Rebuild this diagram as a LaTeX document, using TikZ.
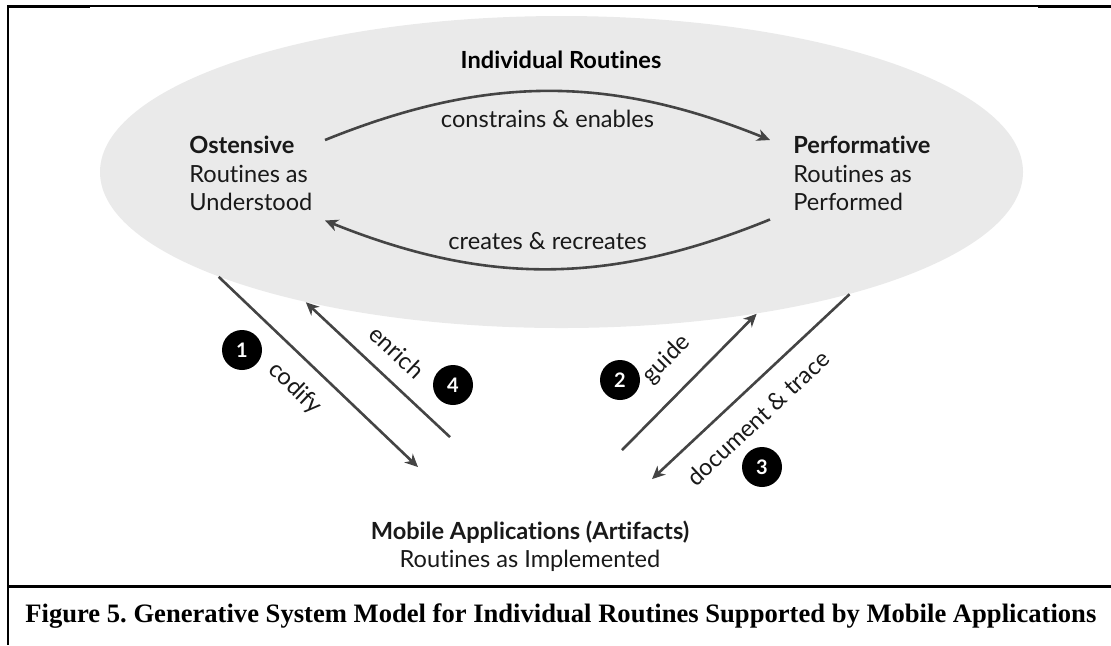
\documentclass[tikz,border=0pt]{standalone}
\usepackage{fontspec}
\setmainfont{Lato}[Ligatures=NoCommon]
\newfontfamily\capfont{Liberation Serif}
\usetikzlibrary{positioning, shapes.geometric, arrows.meta, calc}
\definecolor{ovalgray}{HTML}{EAEAEA}
\definecolor{arrowgray}{HTML}{444444}
\frenchspacing

\begin{document}
\begin{tikzpicture}[
        x=0.5pt, y=-0.5pt,
        lbl/.style={font=\fontsize{11.8}{14.25}\selectfont, text=black!90, inner sep=0},
        head/.style={lbl, font=\fontsize{11.8}{14.25}\selectfont\bfseries, text=black},
        badge/.style={circle, fill=black, text=white, minimum size=20pt, inner sep=0, font=\fontsize{10}{10}\selectfont\bfseries},
        arrowline/.style={-{Stealth[length=6.5pt, width=6pt, inset=2pt]}, line width=1.3pt, draw=arrowgray},
    ]
        \useasboundingbox (0,0) rectangle (1111,645);

        % Frame
        \draw[line width=0.7pt] (8,6) -- (1111,6);
        \draw[line width=1.5pt] (8,6.5) -- (90,6.5);
        \draw[line width=1.5pt] (1038,6.5) -- (1111,6.5);
        \draw[line width=1pt] (8,5) -- (8,645);
        \draw[line width=1.5pt] (8,586) -- (1111,586);

        % Individual routines
        \node[ellipse, fill=ovalgray, minimum width=461.5pt, minimum height=156pt, inner sep=0] (indiv) at (561.5,172) {};
        \node[head] (title) at (561,60) {Individual Routines};
        \node[lbl, align=left, anchor=north west] (ost) at (189,136) {\textbf{Ostensive}\\Routines as\\Understood};
        \node[lbl, align=left, anchor=north west] (perf) at (793,136) {\textbf{Performative}\\Routines as\\Performed};

        % Artifacts
        \node[lbl, align=center] (mobile) at (530,546) {\textbf{Mobile Applications (Artifacts)}\\Routines as Implemented};

        % Numbers
        \node[badge] (n1) at (242,350) {1};
        \node[badge] (n2) at (620,380) {2};
        \node[badge] (n3) at (762,467) {3};
        \node[badge] (n4) at (453,385) {4};

        \draw[arrowline] ([shift={(136,4)}]ost.north west) to[bend left=22]
            node[lbl, midway, below=9pt] (conlbl) {constrains \& enables} ([shift={(-23,4)}]perf.north west);
        \draw[arrowline] ([shift={(-23,8)}]perf.south west) to[bend left=22]
            node[lbl, midway, above=9pt] (crelbl) {creates \& recreates} ([shift={(136,9)}]ost.south west);

        \draw[arrowline] (indiv.197.9) -- node[lbl, sloped, below=8pt, pos=0.48] (codlbl) {codify} ([shift={(-112,-53)}]mobile.north);
        \draw[arrowline] ([shift={(-80,-83)}]mobile.north) -- node[lbl, sloped, above=8pt, pos=0.49] (enrlbl) {enrich} (indiv.207.2);
        \draw[arrowline] ([shift={(92,-70)}]mobile.north) -- node[lbl, sloped, above=10pt, pos=0.5] (guilbl) {guide} (indiv.324.2);
        \draw[arrowline] (indiv.337.1) -- node[lbl, sloped, below=9pt, pos=0.56] (doclbl) {document \& trace} ([shift={(122,-41)}]mobile.north);

        % Caption
        \node[font=\capfont\bfseries\fontsize{13.3}{16}\selectfont, anchor=west, inner sep=0] (caption) at (25,616) {Figure 5. Generative System Model for Individual Routines Supported by Mobile Applications};
\end{tikzpicture}
\end{document}
